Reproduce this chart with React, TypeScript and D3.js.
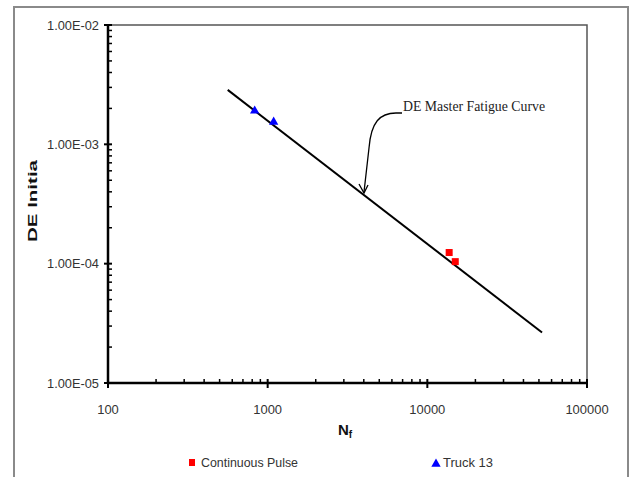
import React from "react";
import * as d3 from "d3";

const xTicks = [100, 1000, 10000, 100000];
const xTickLabels = ["100", "1000", "10000", "100000"];
const yTicks = [1e-5, 1e-4, 1e-3, 1e-2];
const yTickLabels = ["1.00E-05", "1.00E-04", "1.00E-03", "1.00E-02"];

const masterCurveN = [562, 52300];
const masterCurveDE = [2.86e-3, 2.65e-5];

const pulseN = [13700, 14960];
const pulseDE = [1.24e-4, 1.04e-4];

const truckN = [829, 1090];
const truckDE = [1.87e-3, 1.51e-3];

const W = 629;
const H = 477;

export default function App() {
  const x = d3.scaleLog().domain([100, 100000]).range([108, 587]);
  const y = d3.scaleLog().domain([1e-5, 1e-2]).range([383, 25]);

  const minorX: number[] = [];
  for (let d = 100; d < 100000; d *= 10) for (let k = 2; k <= 9; k++) minorX.push(d * k);
  const minorY: number[] = [];
  for (let d = 1e-5; d < 1e-2 * 0.99; d *= 10) for (let k = 2; k <= 9; k++) minorY.push(d * k);

  const line = d3
    .line<number>()
    .x((i) => x(masterCurveN[i]))
    .y((i) => y(masterCurveDE[i]));

  const narrow = "'Liberation Sans Narrow', 'Arial Narrow', 'Liberation Sans', Arial, sans-serif";
  const sans = "'Liberation Sans', Arial, sans-serif";
  const serif = "'Liberation Serif', 'Times New Roman', serif";

  const tri = d3.symbol().type(d3.symbolTriangle).size(38)();

  return (
    <svg
      width={W}
      height={H}
      style={{ position: "absolute", left: 0, top: 0, background: "#fff" }}
    >
      <rect x={0} y={0} width={W} height={H} fill="#fff" />
      {/* outer frame */}
      <path d={`M14,${H + 2} L14,7 L628,7 L628,${H + 2}`} fill="none" stroke="#8a8a8a" strokeWidth={2} />

      {/* plot frame top/right */}
      <path d={`M108,25 L587,25 L587,383`} fill="none" stroke="#555" strokeWidth={1.5} />

      {/* minor ticks */}
      {minorX.map((v, i) => (
        <line key={"mx" + i} x1={x(v)} x2={x(v)} y1={383} y2={379} stroke="#000" strokeWidth={1.5} />
      ))}
      {minorY.map((v, i) => (
        <line key={"my" + i} x1={108} x2={112} y1={y(v)} y2={y(v)} stroke="#000" strokeWidth={1.5} />
      ))}
      {/* major ticks */}
      {xTicks.map((v, i) => (
        <line key={"Mx" + i} x1={x(v)} x2={x(v)} y1={379} y2={388} stroke="#000" strokeWidth={2} />
      ))}
      {yTicks.map((v, i) => (
        <line key={"My" + i} x1={104} x2={112} y1={y(v)} y2={y(v)} stroke="#000" strokeWidth={2} />
      ))}

      {/* axes */}
      <line x1={108} x2={108} y1={25} y2={383} stroke="#000" strokeWidth={2.5} />
      <line x1={108} x2={587} y1={383} y2={383} stroke="#000" strokeWidth={2.5} />

      {/* y tick labels */}
      {yTicks.map((v, i) => (
        <text
          key={"yl" + i}
          x={99}
          y={y(v) + 4.5}
          textAnchor="end"
          fontFamily={narrow}
          fontSize={13}
          fill="#333"
          textLength={52}
          lengthAdjust="spacingAndGlyphs"
        >
          {yTickLabels[i]}
        </text>
      ))}
      {/* x tick labels */}
      {xTicks.map((v, i) => (
        <text
          key={"xl" + i}
          x={x(v)}
          y={414}
          textAnchor="middle"
          fontFamily={narrow}
          fontSize={13}
          fill="#333"
          textLength={xTickLabels[i].length * 7.2}
          lengthAdjust="spacingAndGlyphs"
        >
          {xTickLabels[i]}
        </text>
      ))}

      {/* axis titles */}
      <text
        transform="translate(37,201) rotate(-90)"
        textAnchor="middle"
        fontFamily={sans}
        fontWeight="bold"
        fontSize={12.5}
        fill="#111"
        textLength={82}
        lengthAdjust="spacingAndGlyphs"
      >
        DE Initia
      </text>
      <text x={338} y={435} fontFamily={sans} fontWeight="bold" fontSize={15} fill="#111">
        N<tspan fontSize={10} dy={3}>f</tspan>
      </text>

      {/* master curve */}
      <path d={line([0, 1]) || ""} fill="none" stroke="#000" strokeWidth={2} />

      {/* data */}
      {truckN.map((n, i) => (
        <path key={"t" + i} d={tri || ""} transform={`translate(${x(n)},${y(truckDE[i]) - 1})`} fill="#0000ff" />
      ))}
      {pulseN.map((n, i) => (
        <rect key={"p" + i} x={x(n) - 3.5} y={y(pulseDE[i]) - 3.5} width={7} height={7} fill="#ff0000" />
      ))}

      {/* annotation */}
      <path
        d="M402,113 L396,113 C380,113 371,122 369,148 L364,192"
        fill="none"
        stroke="#000"
        strokeWidth={1.3}
      />
      <path d="M359,184 L364,193 L368,185" fill="none" stroke="#000" strokeWidth={1.3} />
      <text
        x={403}
        y={111}
        fontFamily={serif}
        fontSize={14}
        fill="#222"
        textLength={142}
        lengthAdjust="spacingAndGlyphs"
      >
        DE Master Fatigue Curve
      </text>

      {/* legend */}
      <rect x={189} y={459} width={6} height={7} fill="#ff0000" />
      <text
        x={201}
        y={467}
        fontFamily={narrow}
        fontSize={13}
        fill="#333"
        textLength={97}
        lengthAdjust="spacingAndGlyphs"
      >
        Continuous Pulse
      </text>
      <path d={tri || ""} transform="translate(436,464)" fill="#0000ff" />
      <text
        x={443}
        y={467}
        fontFamily={narrow}
        fontSize={13}
        fill="#333"
        textLength={50}
        lengthAdjust="spacingAndGlyphs"
      >
        Truck 13
      </text>
    </svg>
  );
}
